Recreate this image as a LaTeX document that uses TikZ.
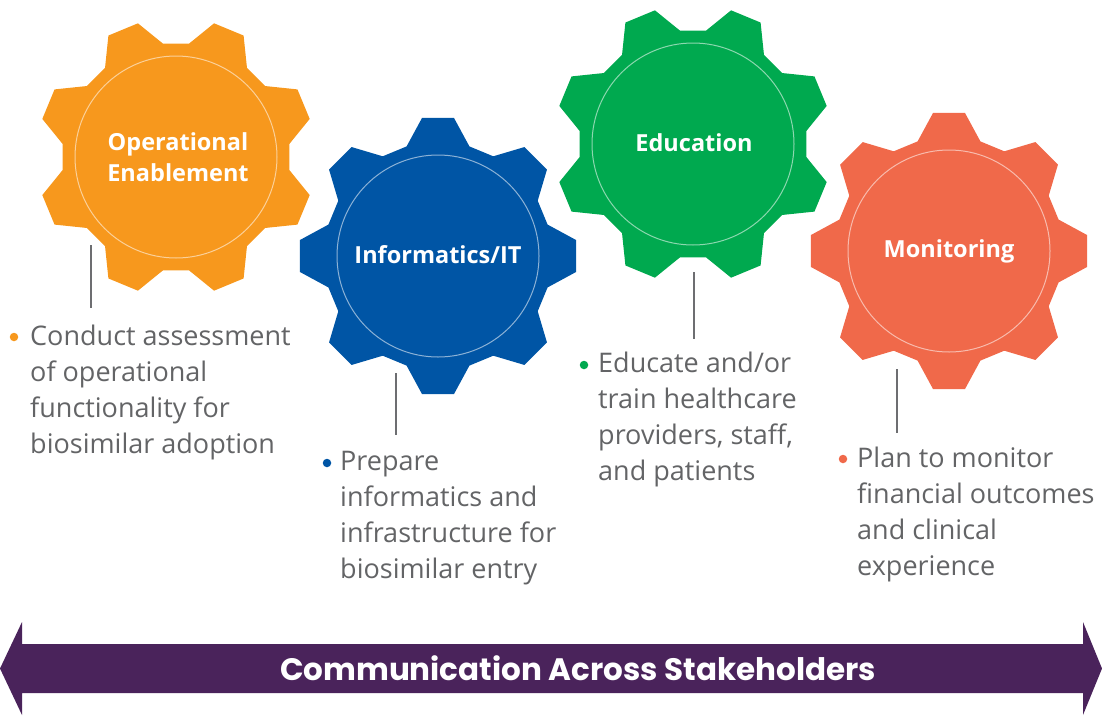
\documentclass[tikz,border=0pt]{standalone}
\usepackage{fontspec}
\setmainfont{Open Sans}
\newfontfamily\bannerfont{Poppins}
\usetikzlibrary{positioning}

\definecolor{gorange}{HTML}{F7981D}
\definecolor{gblue}{HTML}{0055A5}
\definecolor{ggreen}{HTML}{00A94F}
\definecolor{gred}{HTML}{F0694A}
\definecolor{bandpurple}{HTML}{4A235B}
\definecolor{txtgray}{HTML}{636466}
\definecolor{stemgray}{HTML}{6D6E71}

% gear: centre, colour, angle of first tooth
\newcommand{\gear}[3]{%
  \fill[#2,shift={(#1)}] (#3-16:114)
    \foreach \a in {0,45,...,315}{ -- (#3+\a-16:114) -- (#3+\a-6.6:139) -- (#3+\a+6.6:139) -- (#3+\a+16:114)} -- cycle;
  \draw[white,opacity=.55,line width=1pt,shift={(#1)}] (0,0) circle[radius=101pt];
}

\tikzset{
  gearlabel/.style={text=white,align=center,font=\bfseries\fontsize{23.5}{31}\selectfont},
  % anchored at the baseline of the last line
  bullettext/.style={text=txtgray,align=left,anchor=base west,inner sep=0pt,font=\fontsize{27}{36}\selectfont},
  dot/.style={circle,inner sep=0pt,minimum size=8.5pt},
  stem/.style={stemgray,line width=1.6pt}
}

\begin{document}
\begin{tikzpicture}[x=1pt,y=-1pt]
      \useasboundingbox (0,0) rectangle (1102,715);

      \gear{176,157}{gorange}{22.5}
      \gear{438,256}{gblue}{0}
      \gear{693,144}{ggreen}{22.5}
      \gear{949,251}{gred}{0}

      \node[gearlabel](oe) at (178,157){Operational\\Enablement};
      \node[gearlabel](it) at (438,255){Informatics/IT};
      \node[gearlabel](ed) at (694,143){Education};
      \node[gearlabel](mo) at (949,251){Monitoring};

      \coordinate (oe1) at (91,245);  \coordinate (oe2) at (91,308);
      \coordinate (it1) at (396,373); \coordinate (it2) at (396,435);
      \coordinate (ed1) at (694,272); \coordinate (ed2) at (694,339);
      \coordinate (mo1) at (897,369); \coordinate (mo2) at (897,433);

      \draw[stem] (oe1) -- (oe2);
      \draw[stem] (it1) -- (it2);
      \draw[stem] (ed1) -- (ed2);
      \draw[stem] (mo1) -- (mo2);

      \node[dot,fill=gorange](oed) at (14,337){};
      \node[bullettext](oet) at (30,453){Conduct assessment\\of operational\\functionality for\\biosimilar adoption};
      \node[dot,fill=gblue](itd) at (327,463){};
      \node[bullettext](itt) at (340,578){Prepare\\informatics and\\infrastructure for\\biosimilar entry};
      \node[dot,fill=ggreen](edd) at (584,365){};
      \node[bullettext](edt) at (598,480){Educate and/or\\train healthcare\\providers, staff,\\and patients};
      \node[dot,fill=gred](mod) at (843,459){};
      \node[bullettext](mot) at (857,575){Plan to monitor\\financial outcomes\\and clinical\\experience};

      % banner
      \fill[bandpurple] (0,668.5) -- (22,622) -- (22,644) -- (1083,644) -- (1083,622) -- (1102,668.5)
        -- (1083,715) -- (1083,693) -- (22,693) -- (22,715) -- cycle;
      \node[text=white,font=\bannerfont\bfseries\fontsize{31}{32}\selectfont](comm) at (578,668){Communication Across Stakeholders};

\end{tikzpicture}
\end{document}
